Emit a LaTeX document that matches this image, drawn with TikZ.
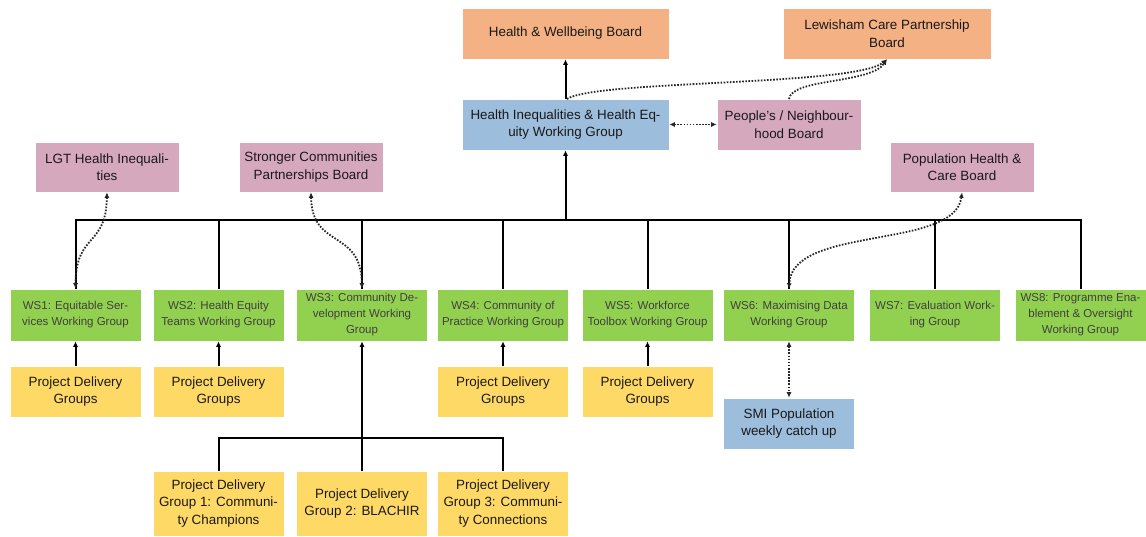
\documentclass[tikz,border=0pt]{standalone}
\usepackage{fontspec}
\setmainfont{Liberation Sans}
\usetikzlibrary{arrows.meta}
\definecolor{corange}{RGB}{244,177,131}
\definecolor{cblue}{RGB}{157,189,220}
\definecolor{cpink}{RGB}{214,168,190}
\definecolor{cgreen}{RGB}{146,208,80}
\definecolor{cyellow}{RGB}{255,217,102}
\definecolor{ctext}{RGB}{25,25,25}
\definecolor{cgtext}{RGB}{64,64,64}
\tikzset{
  boxbase/.style={draw=white, line width=0.6pt, align=center, inner sep=0pt, text=ctext,
    font=\fontsize{13.4}{17.5}\selectfont},
  bigbox/.style={boxbase, minimum width=207pt, minimum height=51pt},
  midbox/.style={boxbase, minimum width=144pt, minimum height=50pt},
  wsbox/.style={boxbase, fill=cgreen, minimum width=131pt, minimum height=52pt, text=cgtext,
    font=\fontsize{11.5}{16}\selectfont},
  pdbox/.style={boxbase, fill=cyellow, minimum width=131pt, minimum height=51pt},
  pgbox/.style={boxbase, fill=cyellow, minimum width=131pt, minimum height=65pt},
  solidline/.style={line width=2pt, black},
  solidarrow/.style={solidline, -{Latex[length=5.5pt,width=5pt]}},
  dotline/.style={line width=1.8pt, black!85, dash pattern=on 1.6pt off 1.5pt},
  dotarrow/.style={dotline, {Latex[length=5.5pt,width=5pt]}-{Latex[length=5.5pt,width=5pt]}},
  dotarrowend/.style={dotline, -{Latex[length=5.5pt,width=5pt]}},
}
\begin{document}
\begin{tikzpicture}[x=1pt,y=-1pt]
\useasboundingbox[fill=white] (0,0) rectangle (1146,536);

% top level
\node[bigbox, fill=corange] (hw) at (565.5,33.5) {Health \& Wellbeing Board};
\node[bigbox, fill=corange, minimum width=208pt] (lcp) at (887,33.5) {Lewisham Care Partnership\\Board};
\node[bigbox, fill=cblue] (hi) at (565.5,124.5) {Health Inequalities \& Health Eq-\\uity Working Group};
\node[midbox, fill=cpink, minimum height=51pt] (pnb) at (789,124.5) {People’s / Neighbour-\\hood Board};
\node[midbox, fill=cpink] (lgt) at (107,167) {LGT Health Inequali-\\ties};
\node[midbox, fill=cpink] (scp) at (311,167) {Stronger Communities\\Partnerships Board};
\node[midbox, fill=cpink] (phc) at (962,167) {Population Health \&\\Care Board};

% workstreams
\node[wsbox] (ws1) at (75.5,315) {WS1: Equitable Ser-\\vices Working Group};
\node[wsbox] (ws2) at (218.5,315) {WS2: Health Equity\\Teams Working Group};
\node[wsbox] (ws3) at (362,315) {WS3: Community De-\\velopment Working\\Group};
\node[wsbox] (ws4) at (503,315) {WS4: Community of\\Practice Working Group};
\node[wsbox] (ws5) at (647.5,315) {WS5: Workforce\\Toolbox Working Group};
\node[wsbox] (ws6) at (789,315) {WS6: Maximising Data\\Working Group};
\node[wsbox] (ws7) at (935,315) {WS7: Evaluation Work-\\ing Group};
\node[wsbox] (ws8) at (1080.5,315) {WS8: Programme Ena-\\blement \& Oversight\\Working Group};

% project delivery groups
\node[pdbox] (pd1) at (75.5,391.5) {Project Delivery\\Groups};
\node[pdbox] (pd2) at (218.5,391.5) {Project Delivery\\Groups};
\node[pdbox] (pd4) at (503,391.5) {Project Delivery\\Groups};
\node[pdbox] (pd5) at (647.5,391.5) {Project Delivery\\Groups};
\node[pdbox, fill=cblue] (smi) at (789,423.5) {SMI Population\\weekly catch up};

\node[pgbox] (pg1) at (218.5,503.5) {Project Delivery\\Group 1: Communi-\\ty Champions};
\node[pgbox] (pg2) at (362,503.5) {Project Delivery\\Group 2: BLACHIR};
\node[pgbox] (pg3) at (503,503.5) {Project Delivery\\Group 3: Communi-\\ty Connections};

% bus to workstreams
\coordinate (busL) at (75.5,220);
\coordinate (busR) at (1080.5,220);
\coordinate (busC) at (565.5,220);
\draw[solidline] (ws1.north) -- (busL) -- (busR) -- (ws8.north);
\foreach \w in {ws2,ws3,ws4,ws5,ws6,ws7}{
  \draw[solidline] (\w.north) -- (\w.north |- busL);
}
\draw[solidarrow] (busC) -- (hi.south);
\draw[solidarrow] (hi.north) -- (hw.south);

% project delivery arrows
\foreach \p/\w in {pd1/ws1,pd2/ws2,pd4/ws4,pd5/ws5}{
  \draw[solidarrow] (\p.north) -- (\w.south);
}
\coordinate (pbus) at (362,438);
\draw[solidline] (pg1.north) -- (pg1.north |- pbus) -- (pg3.north |- pbus) -- (pg3.north);
\draw[solidarrow] (pg2.north) -- (ws3.south);

% dotted links
\draw[dotarrow] (hi.east) -- (pnb.west);
\draw[dotarrow] (ws6.south) -- (smi.north);
\coordinate (hitop) at (567,99);
\coordinate (pnbtop) at (789,99);
\draw[dotarrowend] (hitop) .. controls (595,80) and (855,86) .. (lcp.south);
\draw[dotarrowend] (pnbtop) .. controls (792,78) and (870,84) .. (lcp.south);
\draw[dotarrow] (lgt.south) .. controls (106,248) and (76,232) .. (ws1.north);
\draw[dotarrow] (scp.south) .. controls (312,250) and (361,228) .. (ws3.north);
\draw[dotarrow] (phc.south) .. controls (955,250) and (792,225) .. (ws6.north);
\end{tikzpicture}
\end{document}
